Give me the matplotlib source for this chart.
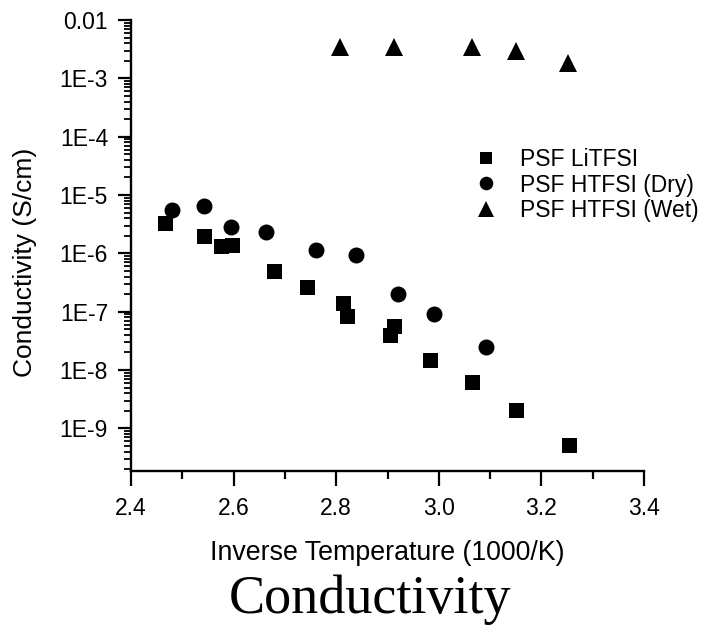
import numpy as np
import matplotlib
matplotlib.use("Agg")
import matplotlib.pyplot as plt
from matplotlib.ticker import LogLocator, FuncFormatter, MultipleLocator, NullFormatter

# ---- data ----
litfsi_x = [2.467, 2.542, 2.575, 2.596, 2.678, 2.744, 2.814, 2.822, 2.912, 2.904, 2.982, 3.064, 3.151, 3.253]
litfsi_y = [3.33e-6, 2.0e-6, 1.35e-6, 1.37e-6, 4.95e-7, 2.6e-7, 1.42e-7, 8.4e-8, 5.6e-8, 3.95e-8, 1.47e-8, 6.25e-9, 2.07e-9, 5.27e-10]

dry_x = [2.479, 2.543, 2.595, 2.664, 2.760, 2.838, 2.920, 2.990, 3.092]
dry_y = [5.5e-6, 6.5e-6, 2.85e-6, 2.35e-6, 1.13e-6, 9.3e-7, 2.0e-7, 9.3e-8, 2.5e-8]

wet_x = [2.807, 2.912, 3.065, 3.150, 3.252]
wet_y = [3.48e-3, 3.48e-3, 3.48e-3, 2.94e-3, 1.85e-3]

series_labels = ["PSF LiTFSI", "PSF HTFSI (Dry)", "PSF HTFSI (Wet)"]
x_ticks = [2.4, 2.6, 2.8, 3.0, 3.2, 3.4]
x_label = "Inverse Temperature (1000/K)"
y_label = "Conductivity (S/cm)"
title = "Conductivity"

plt.rcParams['font.family'] = ['Liberation Sans', 'DejaVu Sans']

W, H = 708, 633
fig = plt.figure(figsize=(W / 100, H / 100), dpi=100)
ax_l, ax_r, ax_t, ax_b = 131, 644, 20, 470.7
ax = fig.add_axes([ax_l / W, (H - ax_b) / H, (ax_r - ax_l) / W, (ax_b - ax_t) / H])

ax.plot(litfsi_x, litfsi_y, linestyle='none', marker='s', markersize=10.8,
        color='black', markeredgewidth=0, label=series_labels[0])
ax.plot(dry_x, dry_y, linestyle='none', marker='o', markersize=11.5,
        color='black', markeredgewidth=0, label=series_labels[1])
ax.plot(wet_x, wet_y, linestyle='none', marker='^', markersize=13,
        color='black', markeredgewidth=0, label=series_labels[2])

ax.set_yscale('log')
ax.set_xlim(2.4, 3.4)
ax.set_ylim(1.88e-10, 1e-2)

ax.set_xticks(x_ticks)
ax.set_xticklabels([f"{v:.1f}" for v in x_ticks])
ax.xaxis.set_minor_locator(MultipleLocator(0.1))

ax.yaxis.set_major_locator(LogLocator(base=10, numticks=20))
ax.yaxis.set_minor_locator(LogLocator(base=10, subs=np.arange(2, 10), numticks=200))
ax.yaxis.set_minor_formatter(NullFormatter())


def yfmt(v, pos):
    e = int(round(np.log10(v)))
    if e == -2:
        return "0.01"
    return f"1E{e}"


ax.yaxis.set_major_formatter(FuncFormatter(yfmt))

for s in ['top', 'right']:
    ax.spines[s].set_visible(False)
for s in ['left', 'bottom']:
    ax.spines[s].set_linewidth(1.7)

ax.tick_params(axis='y', which='major', direction='out', length=9.5, width=1.6, pad=7, labelsize=16.5)
ax.tick_params(axis='y', which='minor', direction='out', length=5, width=1.3)
ax.tick_params(axis='x', which='major', direction='out', length=11, width=1.6, pad=8, labelsize=16.5)
ax.tick_params(axis='x', which='minor', direction='out', length=6, width=1.6)

leg = ax.legend(loc='center left',
                bbox_to_anchor=((474.5 - ax_l) / (ax_r - ax_l), (ax_b - 185) / (ax_b - ax_t)),
                frameon=False, fontsize=16.5, handlelength=1.0, handletextpad=1.0,
                borderpad=0, borderaxespad=0, labelspacing=0.1, markerscale=0.85,
                numpoints=1)

fig.text(((ax_l + ax_r) / 2) / W, (H - 560) / H, x_label, ha='center', va='baseline', fontsize=19.3)
fig.text(25 / W, (H - 262) / H, y_label, rotation=90, ha='center', va='center', fontsize=19)
fig.text(370 / W, (H - 613) / H, title, ha='center', va='baseline', fontsize=39,
         family=['Liberation Serif', 'DejaVu Serif'])

fig.savefig('out.png', dpi=100)
